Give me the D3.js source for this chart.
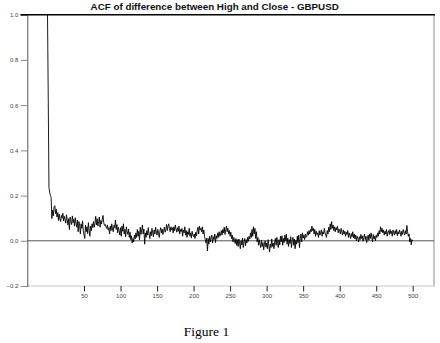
<!DOCTYPE html>
<html>
<head>
<meta charset="utf-8">
<script src="https://cdn.jsdelivr.net/npm/d3@7/dist/d3.min.js"></script>
<style>
  html, body { margin: 0; padding: 0; background: #fff; }
  svg { display: block; }
</style>
</head>
<body>
<svg id="chart" width="440" height="343"></svg>
<script>
// Sample autocorrelation of (High - Close), GBPUSD, lags 0..500
const acf = [
  1.000, 0.640, 0.235, 0.215, 0.200, 0.190, 0.098, 0.135, 0.110, 0.150,
  0.155, 0.120, 0.140, 0.105, 0.125, 0.090, 0.118, 0.095, 0.085, 0.112,
  0.100, 0.122, 0.088, 0.108, 0.095, 0.078, 0.115, 0.092, 0.070, 0.098,
  0.050, 0.105, 0.085, 0.072, 0.110, 0.080, 0.095, 0.065, 0.102, 0.078,
  0.060, 0.092, 0.040, 0.085, 0.068, 0.030, 0.075, 0.055, 0.088, 0.045,
  0.025, 0.010, 0.070, 0.040, 0.062, 0.032, 0.080, 0.048, 0.020, 0.065,
  0.045, 0.075, 0.058, 0.085, 0.060, 0.078, 0.108, 0.070, 0.098, 0.065,
  0.085, 0.105, 0.060, 0.090, 0.075, 0.095, 0.112, 0.080, 0.068, 0.072,
  0.062, 0.055, 0.070, 0.048, 0.058, 0.030, 0.065, 0.045, 0.075, 0.052,
  0.040, 0.068, 0.058, 0.092, 0.050, 0.072, 0.035, 0.060, 0.045, 0.025,
  0.058, 0.020, 0.065, 0.042, 0.075, 0.030, 0.050, 0.018, 0.062, 0.040,
  0.028, 0.052, 0.015, 0.038, 0.005, 0.022, -0.010, 0.010, -0.005, 0.025,
  0.008, 0.035, 0.015, 0.050, 0.020, 0.042, 0.005, 0.060, 0.028, 0.048,
  0.070, 0.030, 0.052, -0.015, 0.035, 0.015, 0.045, 0.025, 0.058, 0.030,
  0.010, 0.040, 0.022, 0.055, 0.035, 0.018, 0.048, 0.030, 0.060, 0.038,
  0.025, 0.050, 0.032, 0.015, 0.045, 0.058, 0.035, 0.052, 0.028, 0.042,
  0.060, 0.038, 0.050, 0.072, 0.045, 0.065, 0.075, 0.052, 0.040, 0.062,
  0.048, 0.058, 0.035, 0.062, 0.045, 0.070, 0.052, 0.038, 0.058, 0.042,
  0.065, 0.030, 0.050, 0.040, 0.055, 0.020, 0.048, 0.035, 0.062, 0.025,
  0.045, 0.015, 0.040, 0.028, 0.055, 0.020, 0.035, 0.012, 0.042, 0.025,
  0.018, 0.030, 0.010, 0.038, 0.022, 0.045, 0.060, 0.030, 0.065, 0.048,
  0.055, 0.040, 0.062, 0.030, 0.048, 0.020, 0.005, -0.010, 0.012, -0.045,
  0.010, -0.015, 0.020, -0.005, 0.015, 0.025, -0.010, 0.018, 0.005, 0.030,
  -0.008, 0.022, 0.010, 0.035, 0.015, 0.040, 0.020, 0.030, 0.045, 0.025,
  0.050, 0.035, 0.060, 0.028, 0.048, 0.065, 0.040, 0.055, 0.030, 0.045,
  0.020, 0.038, 0.010, 0.025, -0.005, 0.015, 0.002, -0.012, 0.010, -0.020,
  0.005, -0.025, 0.008, -0.010, -0.035, 0.000, -0.018, 0.012, -0.030, -0.005,
  0.010, -0.022, 0.005, -0.010, 0.015, -0.002, 0.020, 0.008, 0.035, 0.015,
  0.050, 0.020, 0.062, 0.030, 0.055, 0.010, 0.040, -0.005, 0.015, -0.020,
  0.005, -0.015, -0.030, 0.002, -0.025, -0.008, -0.040, -0.015, 0.000, -0.028,
  -0.010, -0.035, 0.005, -0.020, -0.050, -0.015, -0.030, 0.008, -0.025, -0.010,
  -0.035, -0.005, 0.010, -0.020, 0.015, -0.012, -0.030, 0.005, -0.018, 0.020,
  -0.005, 0.022, -0.020, 0.010, -0.008, 0.025, 0.000, 0.030, -0.015, 0.012,
  -0.025, 0.005, -0.012, 0.018, -0.030, 0.000, 0.015, -0.020, 0.008, -0.035,
  0.002, -0.015, 0.020, -0.008, 0.025, -0.030, 0.010, 0.030, -0.005, 0.035,
  0.012, 0.025, 0.005, 0.030, 0.015, 0.020, 0.040, 0.025, 0.045, 0.030,
  0.050, 0.040, 0.065, 0.045, 0.055, 0.030, 0.050, 0.020, 0.042, 0.028,
  0.035, 0.015, 0.045, 0.025, 0.038, 0.048, 0.020, 0.040, 0.030, 0.055,
  0.035, 0.025, 0.015, 0.045, 0.030, 0.060, 0.040, 0.075, 0.050, 0.085,
  0.055, 0.070, 0.045, 0.062, 0.040, 0.058, 0.048, 0.065, 0.035, 0.052,
  0.045, 0.030, 0.055, 0.038, 0.025, 0.048, 0.030, 0.042, 0.020, 0.038,
  0.028, 0.045, 0.015, 0.035, 0.022, 0.010, 0.032, 0.018, 0.040, 0.012,
  0.030, 0.008, 0.025, 0.000, 0.020, 0.012, -0.005, 0.018, 0.005, 0.028,
  0.010, 0.022, -0.002, 0.015, 0.030, 0.005, 0.020, -0.008, 0.012, 0.025,
  0.002, 0.030, 0.010, 0.035, 0.015, -0.005, 0.028, 0.008, 0.020, 0.000,
  0.025, 0.015, 0.035, 0.020, 0.045, 0.030, 0.062, 0.040, 0.055, 0.035,
  0.048, 0.025, 0.042, 0.030, 0.050, 0.020, 0.038, 0.045, 0.028, 0.050,
  0.032, 0.042, 0.020, 0.048, 0.035, 0.025, 0.045, 0.030, 0.050, 0.022,
  0.040, 0.030, 0.048, 0.035, 0.020, 0.042, 0.028, 0.050, 0.035, 0.025,
  0.045, 0.030, 0.068, 0.040, 0.020, 0.030, -0.005, 0.010, -0.018, 0.005,
  -0.002
];
const lags = acf.map((_, i) => i);

const xTicks = [50, 100, 150, 200, 250, 300, 350, 400, 450, 500];
const yTicks = [-0.2, 0.0, 0.2, 0.4, 0.6, 0.8, 1.0];
const titleText = "ACF of difference between High and Close - GBPUSD";
const captionText = "Figure 1";

const svg = d3.select("#chart");

// Plot frame
const frame = { left: 27.3, right: 434, top: 14.7, bottom: 286 };

const x = d3.scaleLinear().domain([0, 500]).range([47.5, 412.7]);
const y = d3.scaleLinear().domain([-0.2, 1.0]).range([frame.bottom, frame.top]);

// Title
svg.append("text")
  .attr("x", 214.7).attr("y", 10)
  .attr("text-anchor", "middle")
  .attr("font-family", "Liberation Sans, Arial, sans-serif")
  .attr("font-weight", "bold")
  .attr("font-size", 9.8)
  .attr("fill", "#111")
  .text(titleText);

// Box: light right and bottom edges, dark top edge
svg.append("line")
  .attr("x1", frame.right).attr("x2", frame.right)
  .attr("y1", frame.top).attr("y2", frame.bottom + 0.5)
  .attr("stroke", "#c8c8c8").attr("stroke-width", 2);
svg.append("line")
  .attr("x1", frame.left).attr("x2", frame.right)
  .attr("y1", frame.bottom).attr("y2", frame.bottom)
  .attr("stroke", "#c8c8c8").attr("stroke-width", 1.2);

// Y axis
const yAxis = d3.axisLeft(y)
  .tickValues(yTicks)
  .tickFormat(d3.format(".1f"))
  .tickSize(6.5)
  .tickPadding(2.5);
const gy = svg.append("g")
  .attr("transform", `translate(${frame.left},0)`)
  .call(yAxis);
gy.select(".domain").attr("stroke", "#555");
gy.selectAll(".tick line").attr("stroke", "#888");
gy.selectAll(".tick text")
  .attr("font-family", "Liberation Sans, Arial, sans-serif")
  .attr("font-size", 6)
  .attr("fill", "#444");

// X axis (ticks only, below the frame)
const xAxis = d3.axisBottom(x)
  .tickValues(xTicks)
  .tickFormat(d3.format("d"))
  .tickSize(5.5)
  .tickPadding(2.5);
const gx = svg.append("g")
  .attr("transform", `translate(0,${frame.bottom})`)
  .call(xAxis);
gx.select(".domain").remove();
gx.selectAll(".tick line").attr("stroke", "#222");
gx.selectAll(".tick text")
  .attr("font-family", "Liberation Sans, Arial, sans-serif")
  .attr("font-size", 6)
  .attr("fill", "#444");

// Top edge of the frame
svg.append("line")
  .attr("x1", 20.5).attr("x2", frame.right + 1)
  .attr("y1", frame.top).attr("y2", frame.top)
  .attr("stroke", "#000").attr("stroke-width", 1.4);

// Zero reference line
svg.append("line")
  .attr("x1", frame.left).attr("x2", frame.right)
  .attr("y1", y(0)).attr("y2", y(0))
  .attr("stroke", "#555").attr("stroke-width", 1);

// ACF series
const line = d3.line()
  .x(d => x(d))
  .y(d => y(acf[d]));
svg.append("path")
  .datum(lags)
  .attr("d", line)
  .attr("fill", "none")
  .attr("stroke", "#000")
  .attr("stroke-width", 0.9)
  .attr("stroke-linejoin", "miter");

// Caption
svg.append("text")
  .attr("x", 206.5).attr("y", 336)
  .attr("text-anchor", "middle")
  .attr("font-family", "Liberation Serif, Times New Roman, serif")
  .attr("font-size", 13.5)
  .attr("fill", "#000")
  .text(captionText);
</script>
</body>
</html>
